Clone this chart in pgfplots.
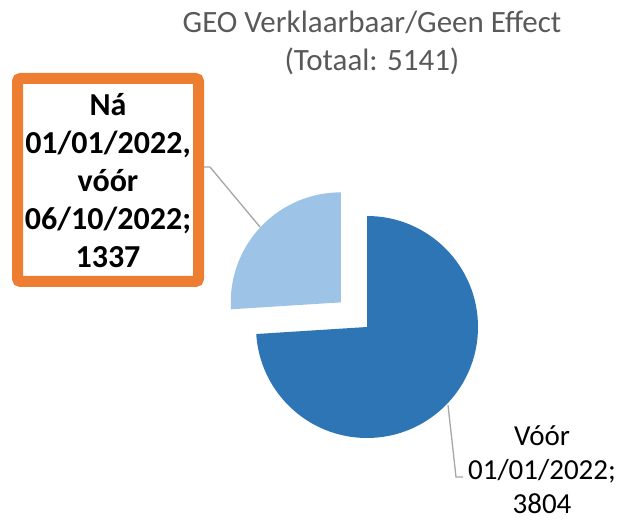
\documentclass[border=0pt]{standalone}
\usepackage{pgfplots}
\pgfplotsset{compat=1.18}
\usepackage{pgfplotstable}
\usepackage{fontspec}
\setmainfont{Carlito}
\definecolor{DARK}{RGB}{46,117,182}
\definecolor{LIGHT}{RGB}{157,195,230}
\definecolor{ORANGE}{RGB}{237,125,49}
\definecolor{LEADER}{RGB}{166,166,166}
\definecolor{TITLE}{RGB}{89,89,89}

\pgfplotstableread{
label value
after 1337
before 3804
}\piedata

\begin{document}
\begin{tikzpicture}
    \pgfplotstablegetelem{0}{value}\of\piedata \let\vB\pgfplotsretval
    \pgfplotstablegetelem{1}{value}\of\piedata \let\vA\pgfplotsretval
    \pgfmathsetmacro\fracA{\vA/(\vA+\vB)}
    \pgfmathsetmacro\angA{360*\fracA}
    \pgfmathsetmacro\angB{360-\angA}
    \pgfmathsetmacro\mid{90+\angB/2}
    \begin{axis}[
        hide axis,
        scale only axis,
        width=623pt, height=521pt,
        xmin=0, xmax=623, ymin=0, ymax=521,
        clip=false,
        ]
        % slices
        \fill[DARK] (axis cs:367,194) -- ++(90:111pt)
            arc[start angle=90, end angle={90-\angA}, radius=111pt] -- cycle;
        \fill[LIGHT] ([shift={(\mid:36pt)}]axis cs:367,194) -- ++(90:110pt)
            arc[start angle=90, delta angle=\angB, radius=110pt] -- cycle;
        % leader lines
        \draw[LEADER, line width=1.3pt] (axis cs:204,354) -- (axis cs:210,354) -- (axis cs:260,294);
        \draw[LEADER, line width=1.3pt] (axis cs:448,116) -- (axis cs:456,44) -- (axis cs:463,44);
        % title
        \node[TITLE, align=center, inner sep=0, font=\fontsize{31}{38}\selectfont]
            at (axis cs:372,478) {GEO Verklaarbaar/Geen Effect\\(Totaal: 5141)};
        % labels
        \draw[ORANGE, line width=11pt, rounded corners=3pt, fill=white]
            (axis cs:17.5,239.5) rectangle (axis cs:198.5,442.5);
        \node[align=center, inner sep=0, font=\fontsize{32}{38}\selectfont\bfseries]
            at (axis cs:108,340) {Ná\\01/01/2022,\\vóór\\06/10/2022;\\1337};
        \node[align=center, inner sep=0, font=\fontsize{29}{34}\selectfont]
            at (axis cs:542,51) {Vóór\\01/01/2022;\\3804};
    \end{axis}
    \pgfresetboundingbox
    \path (current axis.south west) rectangle (current axis.north east);
\end{tikzpicture}
\end{document}
